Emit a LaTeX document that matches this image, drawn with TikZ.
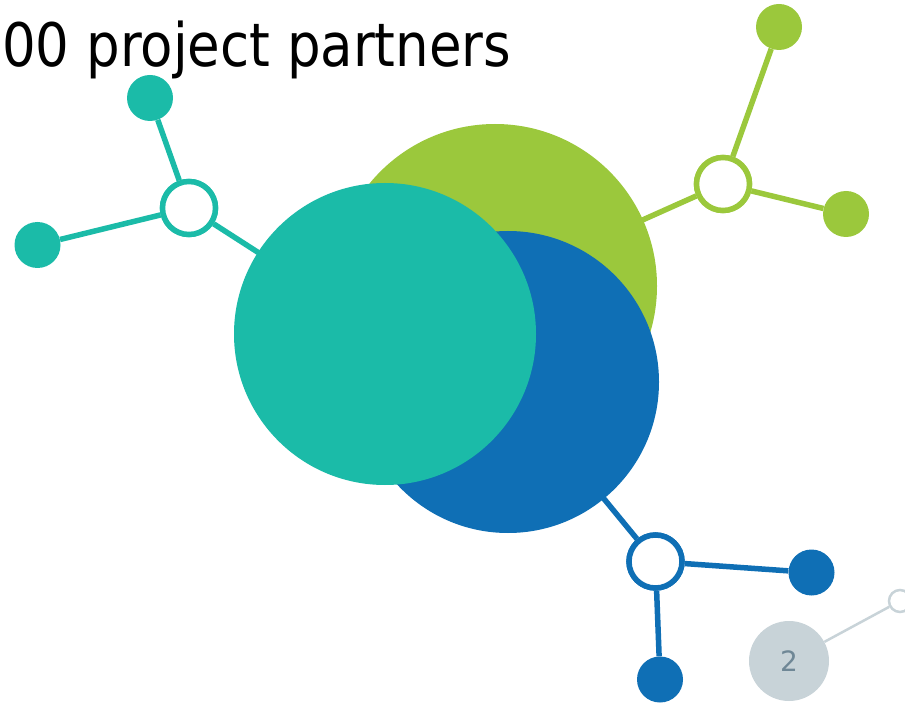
\documentclass[tikz,border=0pt]{standalone}
\usepackage{fontspec}
\setmainfont{DejaVu Sans}
\definecolor{teal1}{RGB}{27,187,168}
\definecolor{green1}{RGB}{155,200,60}
\definecolor{blue1}{RGB}{15,111,181}
\definecolor{gray1}{RGB}{200,211,216}
\definecolor{graytext}{RGB}{111,135,150}
\begin{document}
\begin{tikzpicture}[x=1pt,y=-1pt,
  link/.style={line width=5.5pt},
  hub/.style={circle,draw,line width=5.5pt,fill=white,minimum size=53pt,inner sep=0pt},
  leaf/.style={circle,minimum size=46pt,inner sep=0pt},
  big/.style={circle,inner sep=0pt}]
\useasboundingbox (0,0) rectangle (905,703);
\clip (0,0) rectangle (905,703);
% title
\node[anchor=base west,inner sep=0pt,xscale=0.883,transform shape,font=\fontsize{60}{60}\selectfont] (title) at (2,67) {00 project partners};
% gray
\node[circle,draw=gray1,line width=2.5pt,fill=white,minimum size=22pt,inner sep=0pt] (gring) at (900,601) {};
\coordinate (gout) at (940,570);
\node[big,fill=gray1,minimum size=80pt,text=graytext,font=\fontsize{28}{28}\selectfont] (gbig) at (789,661) {2};
\draw[gray1,line width=2.5pt] (gbig) -- (gring) -- (gout);
% big circles centres
\coordinate (cg) at (495,286);
\coordinate (cb) at (508,382);
\coordinate (ct) at (385,334);
% green net
\node[hub,draw=green1] (ghub) at (723,184) {};
\node[leaf,fill=green1] (gl1) at (779,27) {};
\node[leaf,fill=green1] (gl2) at (846,214) {};
\draw[green1,link] (cg) -- (ghub);
\draw[green1,link] (ghub) -- (gl1);
\draw[green1,link] (ghub) -- (gl2);
% teal net
\node[hub,draw=teal1] (thub) at (189,208) {};
\node[leaf,fill=teal1] (tl1) at (150,98) {};
\node[leaf,fill=teal1] (tl2) at (37.5,245) {};
\draw[teal1,link] (ct) -- (thub);
\draw[teal1,link] (thub) -- (tl1);
\draw[teal1,link] (thub) -- (tl2);
% blue net
\node[hub,draw=blue1] (bhub) at (655.5,561.5) {};
\node[leaf,fill=blue1] (bl1) at (811.5,572.5) {};
\node[leaf,fill=blue1] (bl2) at (660,679.5) {};
\draw[blue1,link] (cb) -- (bhub);
\draw[blue1,link] (bhub) -- (bl1);
\draw[blue1,link] (bhub) -- (bl2);
% redraw hubs on top of links
\node[hub,draw=green1] at (ghub) {};
\node[hub,draw=teal1] at (thub) {};
\node[hub,draw=blue1] at (bhub) {};
% big circles
\node[big,fill=green1,minimum size=324pt] (G) at (cg) {};
\node[big,fill=blue1,minimum size=302pt] (B) at (cb) {};
\node[big,fill=teal1,minimum size=302pt] (T) at (ct) {};
\end{tikzpicture}
\end{document}
